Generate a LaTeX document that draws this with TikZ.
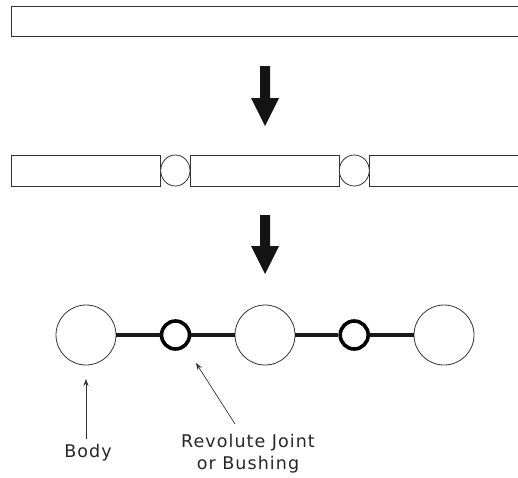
\documentclass[tikz,border=0pt]{standalone}
\usepackage{fontspec}
\setmainfont{DejaVu Sans}[LetterSpace=6]
\usetikzlibrary{arrows.meta}
\begin{document}
\begin{tikzpicture}[x=1pt,y=-1pt,
  bar/.style={draw=black!80,line width=0.9pt,fill=white},
  joint/.style={draw=black!80,line width=0.8pt,fill=white},
  body/.style={circle,draw=black!80,line width=0.8pt,minimum size=60pt,inner sep=0pt},
  pin/.style={circle,draw=black,line width=3.6pt,minimum size=28pt,inner sep=0pt},
  link/.style={line width=3.6pt,black!90},
  bigarrow/.style={fill=black!92},
  lbl/.style={font=\fontsize{17.5}{22}\selectfont,text=black!85,align=center,inner sep=0pt},
  pointer/.style={draw=black!80,line width=0.7pt,-{Stealth[length=7pt,width=5pt]}}]
\useasboundingbox (0,0) rectangle (518,477);
% top bar
\draw[bar] (11,6) rectangle (520,36);
% arrow 1
\fill[bigarrow] (260,66) -- (270,66) -- (270,98) -- (279,98) -- (265,126) -- (251,98) -- (260,98) -- cycle;
% second row
\draw[bar] (11,155) rectangle (160.7,186);
\draw[bar] (190,155) rectangle (339.3,186);
\draw[bar] (369.3,155) rectangle (520,186);
\draw[joint] (160.7,170.5) arc (180:0:14.65 and 15.5);
\draw[joint] (160.7,170.5) arc (-180:0:14.65 and 15.5);
\draw[joint] (339.3,170.5) arc (180:0:15 and 15.5);
\draw[joint] (339.3,170.5) arc (-180:0:15 and 15.5);
% arrow 2
\fill[bigarrow] (260,215) -- (270,215) -- (270,246) -- (279,246) -- (265,274) -- (251,246) -- (260,246) -- cycle;
% bottom chain
\node[body] (b1) at (86,335) {};
\node[body] (b2) at (265,335) {};
\node[body] (b3) at (444,335) {};
\node[pin] (j1) at (175.5,335) {};
\node[pin] (j2) at (354.2,335) {};
\draw[link] (b1) -- (j1);
\draw[link] (j1) -- (b2);
\draw[link] (b2) -- (j2);
\draw[link] (j2) -- (b3);
% labels
\node[lbl] (lbody) at (88,453) {Body};
\node[lbl] (ljoint) at (248,454) {Revolute Joint\\or Bushing};
\coordinate (pb) at (86,379);
\coordinate (pj) at (196,363);
\coordinate (sb) at (86,439);
\coordinate (sj) at (235,424);
\draw[pointer] (sb) -- (pb);
\draw[pointer] (sj) -- (pj);
\end{tikzpicture}
\end{document}
